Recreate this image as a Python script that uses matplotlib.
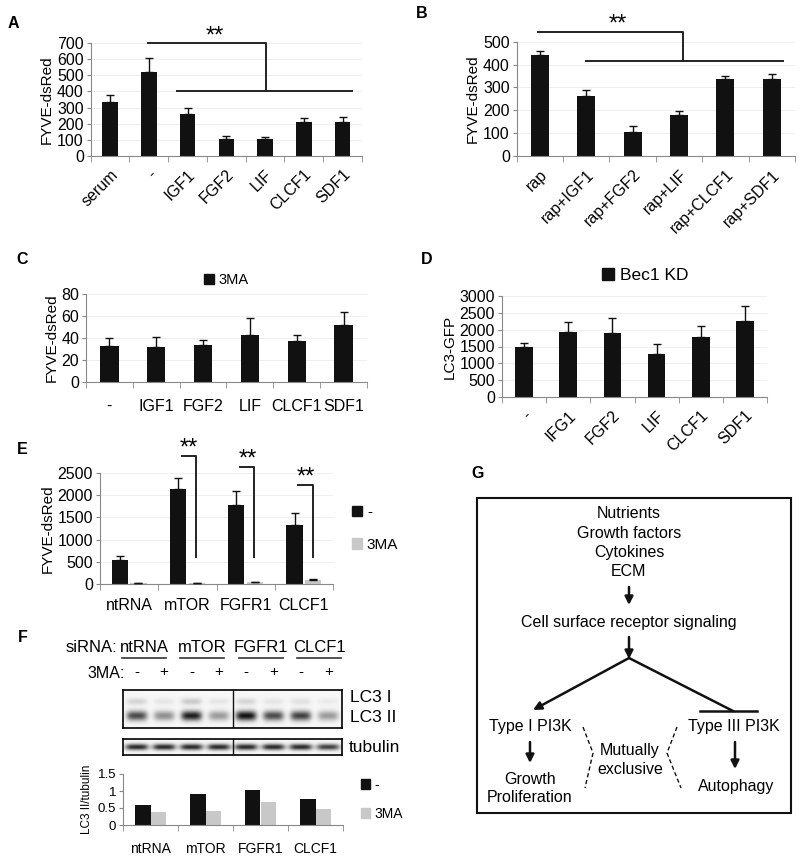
import numpy as np
import matplotlib
matplotlib.use("Agg")
import matplotlib.pyplot as plt
from matplotlib.patches import Patch, Rectangle

plt.rcParams['font.family'] = ['Liberation Sans', 'DejaVu Sans']

W, H = 800, 860
BLACK = '#111111'
GRAY = '#c8c8c8'

# ---- data ----
a_labels = ['serum', '-', 'IGF1', 'FGF2', 'LIF', 'CLCF1', 'SDF1']
a_vals = [335, 520, 258, 105, 105, 210, 210]
a_err = [40, 85, 39, 20, 15, 25, 30]

b_labels = ['rap', 'rap+IGF1', 'rap+FGF2', 'rap+LIF', 'rap+CLCF1', 'rap+SDF1']
b_vals = [440, 262, 105, 180, 335, 338]
b_err = [20, 25, 25, 18, 17, 19]

c_labels = ['-', 'IGF1', 'FGF2', 'LIF', 'CLCF1', 'SDF1']
c_vals = [33, 32, 34, 43, 37, 52]
c_err = [7, 9, 4, 15, 6, 12]

d_labels = ['-', 'IFG1', 'FGF2', 'LIF', 'CLCF1', 'SDF1']
d_vals = [1490, 1930, 1900, 1280, 1780, 2260]
d_err = [120, 290, 450, 300, 330, 450]

e_labels = ['ntRNA', 'mTOR', 'FGFR1', 'CLCF1']
e_ctrl = [530, 2130, 1780, 1340]
e_ctrl_err = [90, 250, 320, 250]
e_3ma = [25, 25, 40, 80]
e_3ma_err = [5, 5, 8, 30]
e_sig_top = [None, 2880, 2635, 2230]

f_labels = ['ntRNA', 'mTOR', 'FGFR1', 'CLCF1']
f_ctrl = [0.60, 0.92, 1.02, 0.76]
f_3ma = [0.37, 0.42, 0.68, 0.46]
# band strengths per lane (-,+ for each siRNA)
lc3i_band = [0.15, 0.08, 0.20, 0.08, 0.15, 0.08, 0.10, 0.06]
lc3ii_band = [0.75, 0.45, 0.95, 0.40, 1.00, 0.75, 0.80, 0.40]
tub_band = [0.9, 0.9, 0.9, 0.9, 0.9, 0.9, 0.9, 0.8]
ma_signs = ['-', '+', '-', '+', '-', '+', '-', '+']
sirna_x = [144, 202, 261, 319]   # header positions over lane pairs

fig = plt.figure(figsize=(W / 100, H / 100), dpi=100)

ov = fig.add_axes([0, 0, 1, 1])
ov.set_xlim(0, W)
ov.set_ylim(H, 0)
ov.axis('off')


def px_axes(l, t, r, b):
    return fig.add_axes([l / W, 1 - b / H, (r - l) / W, (b - t) / H])


def style(ax, n, ymax, step, fs=10):
    for s in ['top', 'right']:
        ax.spines[s].set_visible(False)
    for s in ['left', 'bottom']:
        ax.spines[s].set_color('#888888')
        ax.spines[s].set_linewidth(0.8)
    ax.set_xlim(-0.5, n - 0.5)
    ax.set_ylim(0, ymax)
    ax.set_yticks(np.arange(0, ymax + step / 2, step))
    ax.set_xticks(np.arange(n))
    ax.set_xticks(np.arange(n + 1) - 0.5, minor=True)
    ax.tick_params(axis='x', which='major', length=0, labelsize=fs)
    ax.tick_params(axis='x', which='minor', length=4, color='#888888')
    ax.tick_params(axis='y', length=3, color='#888888', labelsize=fs, pad=2)
    ax.yaxis.grid(True, color='#ececec', lw=0.6)
    ax.set_axisbelow(True)


def bars(ax, x, vals, err, color, width):
    ax.bar(x, vals, width, color=color, zorder=2)
    ax.errorbar(x, vals, yerr=[np.zeros(len(vals)), err], fmt='none',
                ecolor=BLACK, elinewidth=1, capsize=3, capthick=1, zorder=3)


def stars(ax, x, y):
    ax.text(x, y, '**', fontsize=17, ha='center', va='baseline')


# ---- A ----
ax = px_axes(90.7, 43, 362, 156)
style(ax, len(a_labels), 700, 100, fs=11.5)
bars(ax, np.arange(len(a_vals)), a_vals, a_err, BLACK, 0.4)
ax.set_xticklabels(a_labels, rotation=45, ha='right', rotation_mode='anchor')
ax.tick_params(axis='x', which='major', pad=8)
ax.set_ylabel('FYVE-dsRed', fontsize=11, labelpad=2)
ax.plot([0.97, 4.03, 4.03], [700, 700, 400], color='#222222', lw=1.4, clip_on=False)
ax.plot([1.72, 6.24], [400, 400], color='#222222', lw=1.4, clip_on=False)
stars(ax, 2.7, 705)

# ---- B ----
ax = px_axes(516.7, 41.7, 795, 156)
style(ax, len(b_labels), 500, 100, fs=11.5)
bars(ax, np.arange(len(b_vals)), b_vals, b_err, BLACK, 0.39)
ax.set_xticklabels(b_labels, rotation=45, ha='right', rotation_mode='anchor')
ax.tick_params(axis='x', which='major', pad=8)
ax.set_ylabel('FYVE-dsRed', fontsize=11, labelpad=2)
ax.plot([-0.04, 3.09, 3.09], [544, 544, 417], color='#222222', lw=1.4, clip_on=False)
ax.plot([1.0, 5.25], [417, 417], color='#222222', lw=1.4, clip_on=False)
stars(ax, 1.69, 548)

# ---- C ----
ax = px_axes(86, 294, 367, 382)
style(ax, len(c_labels), 80, 20, fs=11.5)
bars(ax, np.arange(len(c_vals)), c_vals, c_err, BLACK, 0.39)
ax.set_xticklabels(c_labels)
ax.tick_params(axis='x', which='major', pad=12)
ax.set_ylabel('FYVE-dsRed', fontsize=11, labelpad=2)
ax.legend(handles=[Patch(color=BLACK)], labels=['3MA'], loc='lower center',
          bbox_to_anchor=(0.5, 0.93), frameon=False, handlelength=0.7,
          handleheight=0.7, handletextpad=0.3, fontsize=10.5)

# ---- D ----
ax = px_axes(502, 296, 767, 397)
style(ax, len(d_labels), 3000, 500, fs=11.5)
bars(ax, np.arange(len(d_vals)), d_vals, d_err, BLACK, 0.4)
ax.set_xticklabels(d_labels, rotation=45, ha='right', rotation_mode='anchor')
ax.tick_params(axis='x', which='major', pad=8)
ax.set_ylabel('LC3-GFP', fontsize=11, labelpad=2)
ax.legend(handles=[Patch(color=BLACK)], labels=['Bec1 KD'], loc='lower center',
          bbox_to_anchor=(0.54, 0.97), frameon=False, handlelength=0.7,
          handleheight=0.7, handletextpad=0.3, fontsize=12.5)

# ---- E ----
ax = px_axes(100, 473, 333, 584)
style(ax, len(e_labels), 2500, 500, fs=11.5)
xe = np.arange(len(e_labels))
bars(ax, xe - 0.16, e_ctrl, e_ctrl_err, BLACK, 0.28)
bars(ax, xe + 0.16, e_3ma, e_3ma_err, GRAY, 0.28)
ax.set_xticklabels(e_labels)
ax.tick_params(axis='x', which='major', pad=10)
ax.set_ylabel('FYVE-dsRed', fontsize=11, labelpad=2)
for i, top in enumerate(e_sig_top):
    if top is None:
        continue
    ax.plot([i - 0.1, i + 0.15, i + 0.15], [top, top, 600], color='#222222',
            lw=1.4, clip_on=False)
    stars(ax, i + 0.03, top + 30)
ax.legend(handles=[Patch(color=BLACK), Patch(color=GRAY)], labels=['-', '3MA'],
          loc='center left', bbox_to_anchor=(1.08, 0.5), frameon=False,
          handlelength=0.7, handleheight=0.7, handletextpad=0.3,
          labelspacing=1.2, fontsize=11, borderaxespad=0, borderpad=0)

# ---- F blot ----
lane_c = 123 + 27.4 * (np.arange(8) + 0.5)
for nm, cx in zip(f_labels, sirna_x):
    ov.text(cx, 647, nm, fontsize=12, ha='center', va='center')
    ov.plot([cx - 22, cx + 22], [658, 658], color='#333333', lw=1.2)
ov.text(117, 647, 'siRNA:', fontsize=12, ha='right', va='center')
ov.text(125, 673, '3MA:', fontsize=11.5, ha='right', va='center')
for cx, s in zip(lane_c, ma_signs):
    ov.text(cx, 672, s, fontsize=11, ha='center', va='center')

bx = px_axes(123, 690, 342, 728)
xx = np.linspace(0, 8, 440)
yy = np.linspace(0, 1, 76)[:, None]
img = np.zeros((76, 440))
for k in range(8):
    prof = np.exp(-((xx - (k + 0.5)) / 0.38) ** 4)
    img += lc3i_band[k] * prof * np.exp(-((yy - 0.3) / 0.09) ** 2)
    img += lc3ii_band[k] * prof * np.exp(-((yy - 0.68) / 0.13) ** 2)
bx.imshow(0.97 - np.clip(img, 0, 1) * 0.9, cmap='gray', vmin=0, vmax=1,
          aspect='auto', extent=[0, 8, 1, 0])
bx.axvline(4, color=BLACK, lw=1)
bx.set_xticks([])
bx.set_yticks([])
for s in bx.spines.values():
    s.set_linewidth(1.2)

tx = px_axes(123, 739, 342, 755)
yy2 = np.linspace(0, 1, 32)[:, None]
img2 = np.zeros((32, 440))
for k in range(8):
    prof = np.exp(-((xx - (k + 0.5)) / 0.42) ** 4)
    img2 += tub_band[k] * prof * np.exp(-((yy2 - 0.5) / 0.2) ** 2)
tx.imshow(0.97 - np.clip(img2, 0, 1) * 0.9, cmap='gray', vmin=0, vmax=1,
          aspect='auto', extent=[0, 8, 1, 0])
tx.axvline(4, color=BLACK, lw=1)
tx.set_xticks([])
tx.set_yticks([])
for s in tx.spines.values():
    s.set_linewidth(1.2)

ov.text(350, 697, 'LC3 I', fontsize=12.5, ha='left', va='center')
ov.text(350, 718, 'LC3 II', fontsize=12.5, ha='left', va='center')
ov.text(349, 747, 'tubulin', fontsize=12.5, ha='left', va='center')

# ---- F bars ----
ax = px_axes(123, 774, 343, 825)
style(ax, len(f_labels), 1.5, 0.5, fs=9.5)
ax.yaxis.grid(False)
xf = np.arange(len(f_labels))
ax.bar(xf - 0.14, f_ctrl, 0.28, color=BLACK)
ax.bar(xf + 0.14, f_3ma, 0.28, color=GRAY)
ax.set_yticks([0, 0.5, 1, 1.5])
ax.set_yticklabels(['0', '0.5', '1', '1.5'])
ax.set_xticklabels(f_labels)
ax.tick_params(axis='x', which='major', pad=12, labelsize=10)
ax.set_ylabel('LC3 II/tubulin', fontsize=8.5, labelpad=3)
ax.legend(handles=[Patch(color=BLACK), Patch(color=GRAY)], labels=['-', '3MA'],
          loc='center left', bbox_to_anchor=(1.08, 0.5), frameon=False,
          handlelength=0.7, handleheight=0.7, handletextpad=0.3,
          labelspacing=1.1, fontsize=10, borderaxespad=0, borderpad=0)

# ---- panel letters ----
for lt, x, y in [('A', 13, 24), ('B', 422, 14), ('C', 22, 260), ('D', 427, 259),
                 ('E', 22, 450), ('F', 23, 637), ('G', 478, 473)]:
    ov.text(x, y, lt, fontsize=11.5, fontweight='bold', ha='center', va='center')

# ---- G diagram ----
ov.add_patch(Rectangle((477, 498), 314, 315, fill=False, lw=1.5, ec=BLACK))
for txt, y in [('Nutrients', 514), ('Growth factors', 533), ('Cytokines', 553), ('ECM', 572)]:
    ov.text(629, y, txt, fontsize=11.5, ha='center', va='center')
ov.text(629, 622, 'Cell surface receptor signaling', fontsize=11.5, ha='center', va='center')
arr = dict(arrowstyle='-|>', lw=1.8, color=BLACK, mutation_scale=12, shrinkA=0, shrinkB=0)
ov.annotate('', xy=(629, 605), xytext=(629, 587), arrowprops=arr)
ov.annotate('', xy=(629, 659), xytext=(629, 637), arrowprops=arr)
ov.annotate('', xy=(533, 710), xytext=(629, 658), arrowprops=arr)
ov.plot([629, 733], [658, 711], color=BLACK, lw=1.8)
ov.plot([700, 757], [711, 711], color=BLACK, lw=1.8)
ov.text(530, 727, 'Type I PI3K', fontsize=11.5, ha='center', va='center')
ov.text(734, 727, 'Type III PI3K', fontsize=11.5, ha='center', va='center')
ov.annotate('', xy=(530, 763), xytext=(530, 742), arrowprops=arr)
ov.annotate('', xy=(735, 769), xytext=(735, 742), arrowprops=arr)
ov.text(530, 779, 'Growth', fontsize=11.5, ha='center', va='center')
ov.text(530, 798, 'Proliferation', fontsize=11.5, ha='center', va='center')
ov.text(736, 787, 'Autophagy', fontsize=11.5, ha='center', va='center')
ov.text(630, 750, 'Mutually', fontsize=11.5, ha='center', va='center')
ov.text(630, 769, 'exclusive', fontsize=11.5, ha='center', va='center')
ov.plot([583, 593, 585], [727, 753, 788], color=BLACK, lw=1, ls=(0, (3, 2)))
ov.plot([677, 667, 681], [727, 753, 788], color=BLACK, lw=1, ls=(0, (3, 2)))

fig.savefig('out.png', dpi=100)
